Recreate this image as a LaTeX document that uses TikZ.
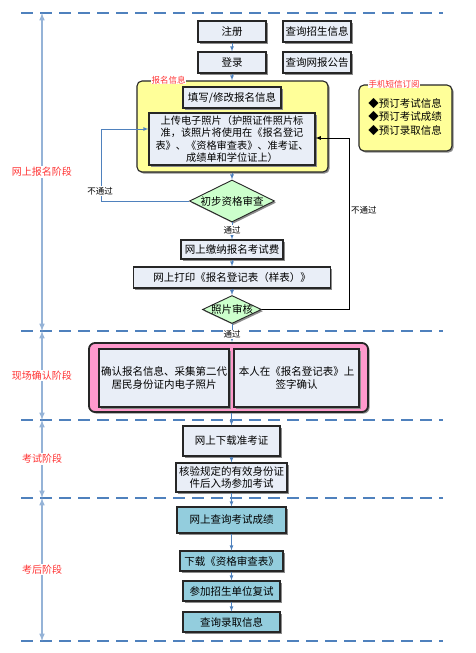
\documentclass[tikz,border=0pt]{standalone}
\usepackage{fontspec}
\setmainfont{Noto Sans CJK SC}
\usepackage{tikz}
\tikzset{>=latex}
\usetikzlibrary{arrows,calc,shapes.geometric,shadows,positioning}
\definecolor{boxblue}{HTML}{E9EEF7}
\definecolor{boxteal}{HTML}{93CDDD}
\definecolor{chkgreen}{HTML}{CCFFCC}
\definecolor{noteyellow}{HTML}{FFFF99}
\definecolor{sitepink}{HTML}{FF99CC}
\definecolor{lineblue}{HTML}{4F81BD}
\definecolor{paleblue}{HTML}{95B3D7}
\definecolor{stagered}{HTML}{FF3333}
\newcommand{\boxfont}{\fontsize{10.5}{12.6}\selectfont}
\newcommand{\smallfont}{\fontsize{8.5}{10}\selectfont}

\begin{document}
\begin{tikzpicture}[x=1pt,y=-1pt,
    shade box/.style={drop shadow={shadow xshift=1.6pt,shadow yshift=-1.6pt,fill=black!45,opacity=1}},
    box/.style={draw=black!85,line width=1.1pt,fill=boxblue,inner sep=0pt,font=\boxfont,align=center,shade box},
    tealbox/.style={box,fill=boxteal},
    check/.style={diamond,aspect=2,draw=black!85,line width=0.9pt,fill=chkgreen,inner sep=-2pt,font=\boxfont,shade box},
    frame/.style={draw=black!85,rounded corners=5pt,inner sep=0pt,shade box},
    framelabel/.style={font=\smallfont,text=stagered,fill=white,inner sep=0.5pt},
    conn/.style={->,draw=lineblue,line width=0.8pt},
    back/.style={->,draw=black,line width=0.8pt},
    note/.style={font=\smallfont,fill=white,inner sep=1pt},
    divider/.style={draw=lineblue,line width=1.4pt,dash pattern=on 12pt off 7pt},
    stagearrow/.style={<->,draw=paleblue,line width=1.5pt},
    stagelabel/.style={font=\fontsize{10}{12}\selectfont,text=stagered,fill=white,inner sep=1pt}]
  \useasboundingbox (0,0) rectangle (475,653);

  % stage dividers
  \foreach \y in {13,331,420,498,641}
    \draw[divider] (21,\y) -- (443,\y);

  % frames
  \node[frame,fill=noteyellow,line width=1.1pt,minimum width=191,minimum height=91] (infoframe) at (232.5,126.5) {};
  \node[frame,fill=noteyellow,line width=1.1pt,minimum width=93,minimum height=66] (smsframe) at (405.5,118) {};
  \node[frame,fill=sitepink,line width=1.8pt,rounded corners=6pt,minimum width=279,minimum height=69] (siteframe) at (228.5,377.5) {};
  \node[framelabel] (infolabel) at (168.5,80) {报名信息};
  \node[framelabel] (smslabel) at (394,84) {手机短信订阅};
  \node[font=\boxfont,align=left,inner sep=0pt] (smsitems) at (405,117) {◆预订考试信息\\[0.6pt]◆预订考试成绩\\[0.6pt]◆预订录取信息};

  % online registration
  \node[box,minimum width=68,minimum height=21] (reg) at (232,31.5) {注册};
  \node[box,minimum width=68,minimum height=21] (query1) at (317,31.5) {查询招生信息};
  \node[box,minimum width=68,minimum height=21] (login) at (232,62.5) {登录};
  \node[box,minimum width=68,minimum height=21] (query2) at (317,62.5) {查询网报公告};
  \node[box,minimum width=98,minimum height=21] (fillin) at (232,97.5) {填写/修改报名信息};
  \node[box,minimum width=166,minimum height=52,font=\fontsize{10.2}{12.5}\selectfont] (photo) at (232,139)
    {上传电子照片（护照证件照片标\\准，该照片将使用在《报名登记\\表》、《资格审查表》、准考证、\\成绩单和学位证上）};
  \node[check,minimum width=85,minimum height=42] (check1) at (232,201) {初步资格审查};
  \node[box,minimum width=102,minimum height=19] (pay) at (232,249.5) {网上缴纳报名考试费};
  \node[box,minimum width=197,minimum height=21] (print) at (232,277.5) {网上打印《报名登记表（样表）》};
  \node[check,minimum width=59,minimum height=28] (check2) at (232,309.5) {照片审核};

  % on-site confirmation
  \node[box,minimum width=130,minimum height=58] (confirm1) at (164,378) {确认报名信息、采集第二代\\居民身份证内电子照片};
  \node[box,minimum width=125,minimum height=58] (confirm2) at (296.5,378) {本人在《报名登记表》上\\签字确认};

  % exam
  \node[box,minimum width=97,minimum height=30] (ticket) at (231.5,441) {网上下载准考证};
  \node[box,minimum width=111,minimum height=29] (verify) at (231.5,477.5) {核验规定的有效身份证\\件后入场参加考试};

  % after exam
  \node[tealbox,minimum width=109,minimum height=26] (score) at (231.5,520) {网上查询考试成绩};
  \node[tealbox,minimum width=103,minimum height=20] (download) at (231.5,561) {下载《资格审查表》};
  \node[tealbox,minimum width=97,minimum height=20] (retest) at (231.5,591) {参加招生单位复试};
  \node[tealbox,minimum width=97,minimum height=20] (admit) at (231.5,622) {查询录取信息};

  % connectors
  \draw[conn] (reg) -- (login);
  \draw[conn] (login.south) -- (login.south |- infoframe.north);
  \draw[conn] (check1.north |- infoframe.south) -- (check1.north);
  \draw[conn] (check1) -- (pay);
  \draw[conn] (pay) -- (print);
  \draw[conn] (print) -- (check2);
  \draw[conn] (check2.south) -- (check2.south |- siteframe.north);
  \draw[conn] (ticket.north |- siteframe.south) -- (ticket.north);
  \draw[conn] (ticket) -- (verify);
  \draw[conn] (verify) -- (score);
  \draw[conn] (score) -- (download);
  \draw[conn] (download) -- (retest);
  \draw[conn] (retest) -- (admit);

  \coordinate (lbend) at (101,129);
  \coordinate (rbend) at (349,138);
  \draw[conn] (check1.west) -| (lbend) -- (lbend -| photo.west);
  \draw[back] (check2.east) -| (rbend) -- (rbend -| photo.east);

  \node[note] (fail1) at (100,191) {不通过};
  \node[note,anchor=west] (fail2) at (350,210) {不通过};
  \node[note] (pass1) at (232,230) {通过};
  \node[note] (pass2) at (232,334.5) {通过};

  % stages
  \coordinate (s0) at (42,13);
  \coordinate (s1) at (42,331);
  \coordinate (s2) at (42,420);
  \coordinate (s3) at (42,498);
  \coordinate (s4) at (42,641);
  \draw[stagearrow] (s0) -- (s1) node[midway,stagelabel] (stage1) {网上报名阶段};
  \draw[stagearrow] (s1) -- (s2) node[midway,stagelabel] (stage2) {现场确认阶段};
  \draw[stagearrow] (s2) -- (s3) node[midway,stagelabel] (stage3) {考试阶段};
  \draw[stagearrow] (s3) -- (s4) node[midway,stagelabel] (stage4) {考后阶段};
\end{tikzpicture}
\end{document}
